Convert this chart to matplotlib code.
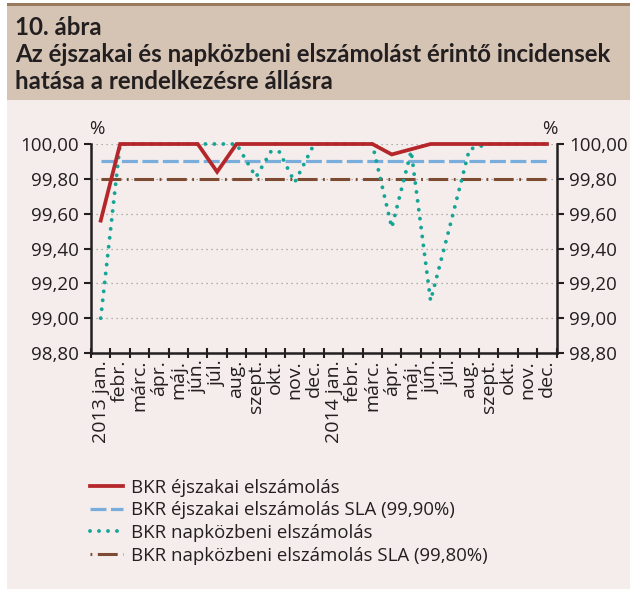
import numpy as np
import matplotlib
matplotlib.use("Agg")
import matplotlib.pyplot as plt
from matplotlib.patches import Rectangle
from matplotlib.lines import Line2D

# ---- data ----
months = ["2013 jan.", "febr.", "márc.", "ápr.", "máj.", "jún.", "júl.", "aug.", "szept.", "okt.", "nov.", "dec.",
          "2014 jan.", "febr.", "márc.", "ápr.", "máj.", "jún.", "júl.", "aug.", "szept.", "okt.", "nov.", "dec."]
night = [99.56, 100, 100, 100, 100, 100, 99.84, 100, 100, 100, 100, 100,
         100, 100, 100, 99.94, 99.97, 100, 100, 100, 100, 100, 100, 100]
day = [99.00, 100, 100, 100, 100, 100, 100, 100, 99.81, 100, 99.78, 100,
       100, 100, 100, 99.52, 99.96, 99.10, 99.53, 99.97, 100, 100, 100, 100]
night_sla = [99.90] * 24
day_sla = [99.80] * 24
yticks = [98.8, 99.0, 99.2, 99.4, 99.6, 99.8, 100.0]
labels = ["BKR éjszakai elszámolás", "BKR éjszakai elszámolás SLA (99,90%)",
          "BKR napközbeni elszámolás", "BKR napközbeni elszámolás SLA (99,80%)"]
title1 = "10. ábra"
title2 = "Az éjszakai és napközbeni elszámolást érintő incidensek"
title3 = "hatása a rendelkezésre állásra"

W, H = 630, 594
TXT = "#231F20"
RED = "#B5262B"
BLUE = "#79AEDC"
TEAL = "#14A596"
BROWN = "#7C4B32"

plt.rcParams['font.family'] = ['Open Sans', 'DejaVu Sans']

fig = plt.figure(figsize=(W / 100, H / 100), dpi=100)
fig.patch.set_facecolor("white")

def fx(x):
    return x / W

def fy(y):
    return 1 - y / H

# backgrounds
fig.patches.append(Rectangle((fx(7), fy(589)), fx(623), 585 / H, transform=fig.transFigure,
                             facecolor="#F5EDEB", edgecolor="none", zorder=-10))
fig.patches.append(Rectangle((fx(7), fy(100)), fx(623), 95 / H, transform=fig.transFigure,
                             facecolor="#D5C4B4", edgecolor="none", zorder=-9))
fig.patches.append(Rectangle((fx(7), fy(6)), fx(623), 3 / H, transform=fig.transFigure,
                             facecolor="#9A7A5C", edgecolor="none", zorder=-8))

# title
tkw = dict(family=['Lato', 'DejaVu Sans'], fontweight='bold', color=TXT, ha='left', va='baseline')
t1 = fig.text(fx(15), fy(35), title1, fontsize=15, **tkw)
t2 = fig.text(fx(15), fy(62), title2, fontsize=15, **tkw)
t3 = fig.text(fx(15), fy(89), title3, fontsize=15, **tkw)
fig.canvas.draw()
r = fig.canvas.get_renderer()
w2 = t2.get_window_extent(r).width
fs = 15 * 597 / w2
for t in (t1, t2, t3):
    t.set_fontsize(fs)

# axes
ax = fig.add_axes([fx(91), fy(353), (556.7 - 91) / W, (353 - 144) / H])
ax.set_facecolor("none")
x = np.arange(len(months))
ax.set_xlim(-0.5, len(months) - 0.5)
ax.set_ylim(98.8, 100.0)

ax.set_yticks(yticks)
ax.set_yticklabels([f"{v:.2f}".replace(".", ",") for v in yticks])
ax.yaxis.grid(True, linestyle=(0, (1, 3)), color="#9A9A9A", lw=0.9, zorder=0)
ax.set_axisbelow(True)

ax.set_xticks(np.arange(-0.5, len(months), 1))
ax.set_xticklabels([])
ax.set_xticks(x, minor=True)
ax.set_xticklabels(months, minor=True, rotation=90, va='top', ha='center', fontsize=14, color=TXT)
ax.tick_params(axis='x', which='major', direction='inout', length=7, width=1.5, color=TXT)
ax.tick_params(axis='x', which='minor', length=0, pad=5)
ax.tick_params(axis='y', direction='out', length=5, width=1.5, color=TXT, labelsize=13.5,
               labelcolor=TXT, left=True, right=True, labelleft=True, labelright=True, pad=4)

for s in ('left', 'right', 'bottom'):
    ax.spines[s].set_linewidth(1.8)
    ax.spines[s].set_color(TXT)
ax.spines['top'].set_visible(False)

ax.plot(x, day_sla, color=BROWN, lw=2.2, dashes=(6.5, 1.8, 0.6, 1.8), zorder=2, clip_on=False)
ax.plot(x, night_sla, color=BLUE, lw=2.3, dashes=(5, 1.4), zorder=3, clip_on=False)
ax.plot(x, day, color=TEAL, lw=2.8, dashes=(0.01, 2.3), dash_capstyle='round', zorder=4, clip_on=False)
ax.plot(x, night, color=RED, lw=2.7, zorder=5, clip_on=False, solid_joinstyle='miter')

fig.text(fx(97), fy(129), "%", fontsize=13.5, color=TXT, ha='center', va='center')
fig.text(fx(550), fy(129), "%", fontsize=13.5, color=TXT, ha='center', va='center')

handles = [Line2D([], [], color=RED, lw=2.7),
           Line2D([], [], color=BLUE, lw=2.3, dashes=(5, 1.4)),
           Line2D([], [], color=TEAL, lw=2.8, dashes=(0.01, 2.3), dash_capstyle='round'),
           Line2D([], [], color=BROWN, lw=2.2, dashes=(0.6, 1.8, 6.5, 1.8))]
fig.legend(handles, labels, loc='upper left', bbox_to_anchor=(fx(84), fy(473)), frameon=False,
           fontsize=13.4, labelcolor=TXT, handlelength=1.8, handletextpad=0.43, labelspacing=0.25,
           borderaxespad=0, borderpad=0.3)

fig.savefig("out.png", dpi=100, facecolor=fig.get_facecolor())
